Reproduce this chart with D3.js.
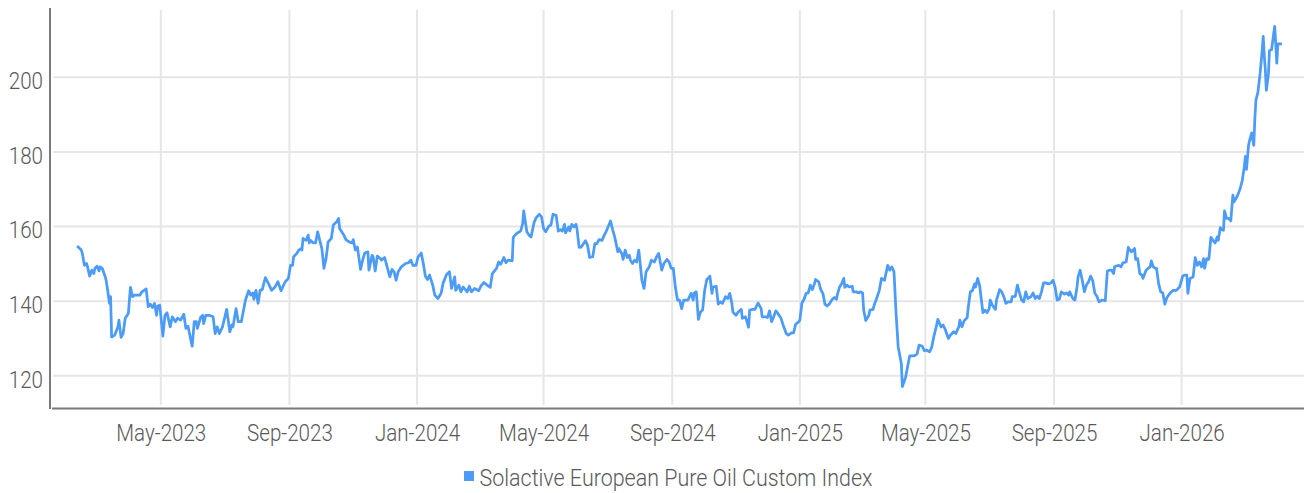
<!DOCTYPE html>
<html>
<head>
<meta charset="utf-8">
<script src="https://cdn.jsdelivr.net/npm/d3@7"></script>
<style>
  html, body { margin: 0; padding: 0; background: #fff; }
  svg text { font-family: Roboto, "Noto Sans", sans-serif; font-weight: 300; fill: #595959; }
</style>
</head>
<body>
<div id="chart"></div>
<script>
const startDate = "2023-02-10";
const days = [
  0, 4, 5, 7, 9, 10, 12, 14, 16, 17,
  19, 21, 22, 24, 27, 28, 31, 32, 33, 36,
  39, 40, 42, 44, 46, 49, 51, 53, 55, 60,
  62, 66, 68, 70, 72, 74, 76, 77, 79, 82,
  84, 86, 89, 91, 94, 96, 99, 102, 104, 106,
  110, 112, 114, 115, 118, 120, 121, 123, 126, 130,
  132, 134, 136, 139, 143, 146, 148, 149, 152, 154,
  157, 161, 164, 166, 168, 169, 171, 173, 175, 177,
  180, 183, 186, 189, 192, 195, 199, 202, 204, 206,
  207, 210, 212, 214, 215, 216, 219, 221, 222, 223,
  226, 228, 230, 232, 234, 236, 238, 240, 243, 245,
  247, 248, 250, 251, 255, 257, 260, 263, 264, 266,
  268, 271, 273, 275, 278, 279, 282, 283, 285, 287,
  290, 291, 294, 296, 299, 301, 303, 305, 307, 310,
  314, 317, 319, 321, 324, 326, 329, 331, 333, 335,
  337, 340, 342, 345, 348, 350, 353, 356, 358, 361,
  362, 365, 367, 369, 373, 375, 377, 380, 384, 386,
  389, 392, 395, 397, 401, 403, 405, 408, 410, 412,
  416, 417, 420, 424, 426, 427, 430, 432, 434, 437,
  439, 442, 444, 446, 448, 451, 453, 455, 458, 460,
  462, 464, 466, 467, 470, 471, 473, 475, 477, 478,
  480, 482, 486, 488, 490, 493, 495, 497, 499, 502,
  504, 506, 510, 512, 514, 517, 518, 521, 522, 524,
  526, 528, 529, 531, 533, 535, 537, 538, 540, 542,
  544, 547, 549, 552, 554, 556, 559, 561, 564, 566,
  568, 570, 572, 574, 576, 578, 580, 584, 587, 589,
  590, 592, 594, 596, 598, 600, 602, 604, 605, 607,
  608, 611, 613, 615, 617, 620, 622, 624, 626, 627,
  630, 632, 635, 636, 639, 640, 642, 643, 646, 648,
  651, 654, 655, 658, 660, 662, 664, 666, 668, 670,
  673, 675, 678, 680, 683, 685, 687, 690, 691, 693,
  695, 697, 699, 701, 703, 705, 706, 709, 711, 713,
  715, 717, 719, 722, 724, 726, 727, 729, 731, 733,
  734, 736, 738, 741, 742, 745, 747, 749, 751, 752,
  754, 757, 758, 761, 762, 765, 767, 769, 772, 773,
  775, 777, 779, 781, 783, 785, 788, 789, 792, 794,
  796, 800, 803, 805, 808, 810, 812, 815, 817, 819,
  821, 823, 826, 828, 830, 833, 835, 838, 840, 843,
  844, 846, 848, 851, 852, 854, 856, 858, 859, 861,
  863, 864, 866, 868, 870, 872, 873, 875, 878, 879,
  882, 884, 886, 888, 890, 893, 894, 897, 899, 901,
  903, 905, 907, 909, 912, 914, 916, 918, 920, 922,
  924, 926, 929, 931, 933, 935, 937, 939, 941, 944,
  946, 948, 949, 952, 954, 956, 957, 959, 961, 963,
  965, 967, 969, 971, 973, 975, 977, 980, 983, 985,
  987, 989, 991, 992, 996, 998, 1000, 1003, 1005, 1008,
  1011, 1012, 1014, 1016, 1018, 1019, 1022, 1024, 1026, 1027,
  1029, 1031, 1032, 1034, 1036, 1038, 1040, 1042, 1045, 1048,
  1051, 1054, 1055, 1057, 1059, 1061, 1062, 1064, 1067, 1069,
  1071, 1073, 1075, 1077, 1078, 1080, 1082, 1084, 1086, 1088,
  1090, 1091, 1093, 1094, 1096, 1097, 1099, 1101, 1103, 1105,
  1106, 1108, 1110, 1112, 1114, 1116, 1117, 1118, 1120, 1121,
  1123, 1125, 1126, 1127, 1129, 1131, 1133, 1134, 1135, 1136,
  1137, 1139, 1140, 1142, 1144, 1145, 1146, 1147, 1148, 1152
];
const values = [
  154.8, 153.7, 152.8, 149.6, 150.1, 149.2, 146.7, 148.3, 147.4, 148.8,
  149.4, 148.1, 149.2, 148.8, 146.5, 145.2, 139.4, 141.2, 130.4, 130.9,
  133.1, 134.9, 130.3, 131.3, 135.4, 136.7, 143.7, 141.2, 141.6, 141.6,
  142.5, 143.3, 138.5, 139.2, 138.3, 139.4, 136.2, 138.7, 138.9, 130.6,
  136.2, 136.9, 133.1, 135.8, 134.5, 135.4, 134.9, 136.5, 132.7, 133.3,
  127.9, 134.5, 134.5, 132.7, 135.6, 136.2, 134.0, 136.2, 136.2, 135.8,
  131.3, 133.1, 131.3, 133.1, 137.8, 131.8, 133.6, 133.1, 138.0, 134.5,
  134.5, 140.3, 142.8, 141.6, 142.2, 140.5, 142.9, 139.4, 142.9, 143.1,
  146.3, 144.7, 142.9, 143.7, 145.2, 142.8, 145.2, 146.1, 149.6, 149.6,
  151.9, 152.8, 153.7, 154.1, 153.7, 156.8, 156.3, 157.7, 155.6, 156.3,
  155.6, 155.6, 158.6, 156.3, 154.1, 148.8, 151.4, 155.9, 156.8, 160.4,
  161.0, 161.2, 162.2, 159.5, 157.7, 156.5, 155.9, 155.6, 156.5, 153.7,
  154.5, 148.5, 151.0, 152.9, 153.2, 148.3, 152.3, 151.9, 148.1, 152.1,
  151.4, 151.0, 151.7, 149.6, 146.5, 148.5, 147.9, 145.6, 147.9, 149.2,
  150.1, 150.3, 151.0, 149.6, 149.6, 151.9, 152.9, 150.1, 146.7, 145.8,
  147.0, 144.3, 141.6, 140.7, 142.1, 144.9, 147.0, 147.9, 143.4, 146.5,
  142.9, 144.3, 142.5, 143.8, 142.5, 144.0, 142.5, 143.4, 142.8, 144.0,
  145.0, 144.3, 143.7, 147.4, 148.8, 150.5, 149.9, 151.7, 150.3, 151.0,
  150.8, 157.1, 158.1, 158.8, 160.8, 164.2, 158.6, 157.7, 157.2, 161.2,
  162.4, 163.3, 162.6, 159.5, 158.6, 160.1, 160.4, 163.3, 163.0, 158.8,
  159.2, 158.8, 160.6, 158.3, 159.9, 158.8, 160.6, 159.9, 160.6, 159.2,
  154.4, 154.5, 156.2, 155.0, 151.7, 151.9, 155.4, 155.4, 156.5, 156.3,
  157.7, 158.8, 161.5, 159.2, 157.2, 153.2, 154.1, 152.6, 151.2, 153.7,
  151.7, 152.3, 151.0, 150.1, 151.0, 150.5, 153.7, 151.0, 145.6, 143.4,
  147.9, 149.2, 151.0, 150.5, 151.9, 152.8, 148.3, 150.1, 151.2, 150.5,
  148.8, 148.8, 143.7, 140.3, 140.3, 138.0, 140.3, 140.3, 142.1, 140.3,
  142.2, 142.5, 135.1, 137.1, 137.6, 142.9, 145.8, 146.3, 146.7, 142.1,
  143.8, 144.0, 139.2, 139.8, 139.4, 141.2, 140.7, 142.1, 139.4, 137.1,
  136.2, 137.1, 137.8, 135.4, 135.8, 134.9, 133.0, 137.6, 137.8, 137.8,
  139.5, 138.0, 135.8, 135.8, 135.6, 137.4, 134.5, 135.8, 137.4, 136.7,
  135.4, 133.6, 131.3, 130.9, 131.5, 131.5, 133.8, 134.5, 134.9, 139.5,
  140.5, 142.1, 142.2, 144.3, 143.1, 144.7, 145.8, 145.2, 143.1, 142.1,
  139.2, 138.7, 139.2, 140.5, 141.0, 140.5, 141.9, 143.8, 144.7, 146.1,
  143.7, 144.3, 143.8, 144.0, 142.5, 142.5, 142.2, 142.5, 142.2, 137.6,
  134.8, 136.2, 137.6, 137.8, 138.9, 141.2, 142.9, 146.1, 145.6, 147.0,
  149.6, 148.3, 149.2, 147.9, 136.7, 127.8, 123.3, 117.1, 119.5, 122.4,
  125.3, 125.3, 125.8, 128.2, 127.9, 126.7, 126.9, 126.4, 127.6, 130.4,
  132.7, 135.1, 133.1, 133.6, 132.4, 130.0, 130.9, 131.8, 131.3, 133.1,
  134.9, 133.1, 134.7, 135.6, 138.3, 142.5, 142.8, 144.6, 143.8, 146.1,
  144.0, 141.6, 136.9, 137.6, 136.9, 138.0, 140.3, 138.9, 137.8, 140.3,
  143.1, 142.5, 141.2, 139.4, 139.8, 139.8, 141.2, 141.3, 144.3, 142.2,
  140.3, 139.8, 142.5, 140.7, 141.2, 142.2, 140.7, 141.3, 140.7, 142.5,
  144.9, 144.9, 144.6, 144.9, 145.6, 143.8, 140.3, 140.5, 142.5, 141.9,
  142.2, 141.6, 142.5, 140.7, 140.3, 143.8, 146.5, 148.3, 145.6, 142.5,
  144.3, 145.2, 146.7, 145.5, 142.1, 141.3, 139.8, 140.3, 140.1, 148.1,
  148.3, 148.3, 147.4, 149.3, 149.6, 149.2, 150.3, 150.5, 154.4, 153.2,
  154.1, 151.2, 151.4, 147.4, 147.0, 146.1, 148.3, 148.8, 149.2, 150.8,
  149.2, 148.8, 148.8, 144.7, 142.5, 142.2, 139.2, 141.0, 142.2, 142.9,
  142.9, 143.8, 144.7, 146.7, 147.0, 147.0, 142.1, 146.1, 146.5, 151.7,
  149.6, 150.5, 149.2, 151.4, 148.8, 151.4, 151.2, 157.1, 156.3, 155.6,
  157.2, 156.3, 159.7, 159.2, 159.0, 164.2, 162.2, 162.2, 161.5, 168.4,
  166.6, 167.5, 168.7, 170.2, 172.4, 176.2, 178.8, 175.3, 181.8, 183.1,
  185.1, 181.8, 188.9, 193.8, 196.1, 201.0, 207.2, 211.0, 205.9, 202.1,
  196.5, 201.0, 207.2, 207.4, 211.7, 213.7, 209.0, 203.8, 209.0, 209.0
];
const seriesName = "Solactive European Pure Oil Custom Index";
const yTicks = [120, 140, 160, 180, 200];
const xTicks = ["2023-05-01", "2023-09-01", "2024-01-01", "2024-05-01", "2024-09-01",
                "2025-01-01", "2025-05-01", "2025-09-01", "2026-01-01"];
const xDomain = ["2023-01-17", "2026-04-28"];
const yDomain = [111.35, 218.6];

const width = 1304, height = 493;
const lineColor = "#4b9bf7";
const plot = { left: 52, right: 1304, top: 8, bottom: 408 };
const fontSize = 23.5, squeeze = 0.875, legendSqueeze = 0.913;

const parse = d3.utcParse("%Y-%m-%d");
const base = parse(startDate);
const data = days.map((d, i) => ({ date: d3.utcDay.offset(base, d), value: values[i] }));

const svg = d3.select("#chart").append("svg")
  .attr("width", width)
  .attr("height", height);

const x = d3.scaleUtc()
  .domain(xDomain.map(parse))
  .range([plot.left, plot.right]);

const y = d3.scaleLinear()
  .domain(yDomain)
  .range([plot.bottom, plot.top]);

// grid
svg.append("g")
  .selectAll("line")
  .data(yTicks)
  .join("line")
    .attr("x1", plot.left + 1).attr("x2", plot.right)
    .attr("y1", d => y(d)).attr("y2", d => y(d))
    .attr("stroke", "#e6e6e6").attr("stroke-width", 2);

svg.append("g")
  .selectAll("line")
  .data(xTicks.map(parse))
  .join("line")
    .attr("x1", d => x(d)).attr("x2", d => x(d))
    .attr("y1", plot.top + 2).attr("y2", plot.bottom - 3)
    .attr("stroke", "#e6e6e6").attr("stroke-width", 2);

// axes (labels only, lines drawn separately)
const xAxis = svg.append("g")
  .attr("transform", `translate(0,${plot.bottom})`)
  .call(d3.axisBottom(x)
    .tickValues(xTicks.map(parse))
    .tickFormat(d3.utcFormat("%b-%Y"))
    .tickSize(0)
    .tickPadding(16));

const yAxis = svg.append("g")
  .attr("transform", `translate(${plot.left - 2},0)`)
  .call(d3.axisLeft(y)
    .tickValues(yTicks)
    .tickSize(0)
    .tickPadding(7));

[xAxis, yAxis].forEach(g => {
  g.select(".domain").remove();
  g.selectAll("text")
    .attr("font-size", fontSize)
    .attr("fill", "#595959");
  g.attr("font-family", null).attr("font-size", null);
});

xAxis.selectAll("text")
  .attr("transform", `scale(${squeeze},1)`);

yAxis.selectAll("text")
  .attr("dy", "0.48em")
  .attr("x", -7 / squeeze)
  .attr("transform", `scale(${squeeze},1)`);

svg.append("line")
  .attr("x1", plot.left - 2).attr("x2", plot.left - 2)
  .attr("y1", plot.top).attr("y2", plot.bottom + 1)
  .attr("stroke", "#7a7a7a").attr("stroke-width", 2);

svg.append("line")
  .attr("x1", plot.left).attr("x2", plot.right)
  .attr("y1", plot.bottom + 0.5).attr("y2", plot.bottom + 0.5)
  .attr("stroke", "#7a7a7a").attr("stroke-width", 2);

// series
const line = d3.line()
  .x(d => x(d.date))
  .y(d => y(d.value));

svg.append("path")
  .datum(data)
  .attr("fill", "none")
  .attr("stroke", lineColor)
  .attr("stroke-width", 2.75)
  .attr("stroke-linejoin", "round")
  .attr("d", line);

// legend
const legend = svg.append("g")
  .attr("transform", "translate(464,471)");

legend.append("rect")
  .attr("width", 10).attr("height", 10)
  .attr("fill", lineColor);

legend.append("text")
  .attr("transform", `translate(15.5,15) scale(${legendSqueeze},1)`)
  .attr("font-size", fontSize)
  .text(seriesName);
</script>
</body>
</html>
